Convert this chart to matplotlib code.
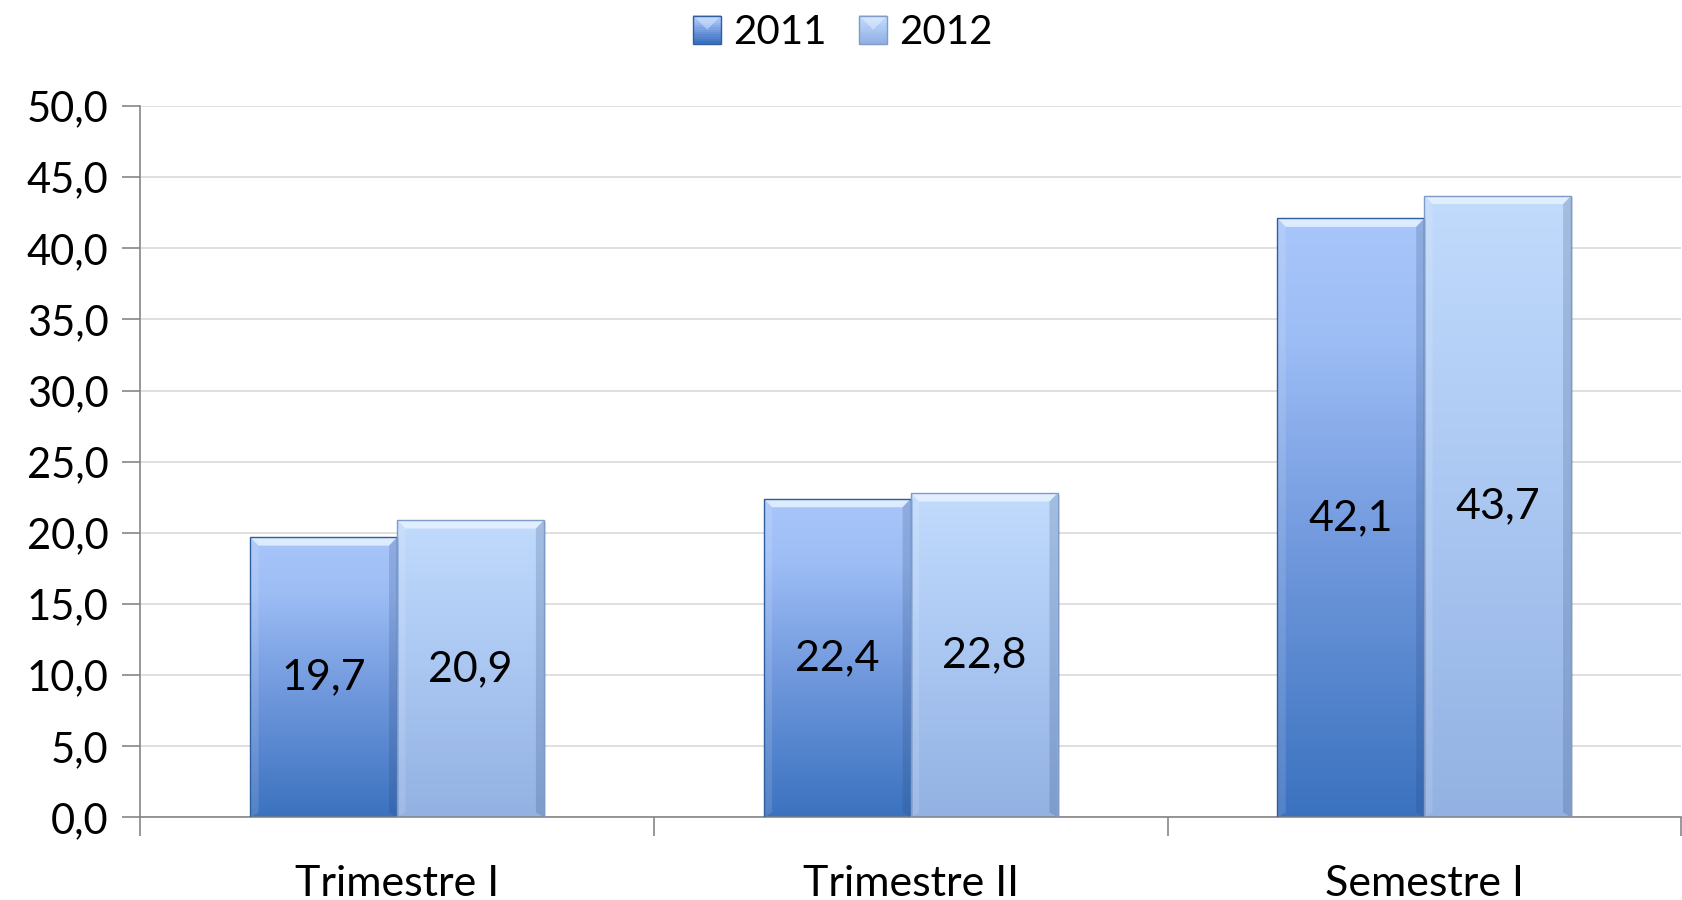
import numpy as np
import matplotlib
matplotlib.use("Agg")
import matplotlib.pyplot as plt
from matplotlib.colors import LinearSegmentedColormap
from matplotlib.patches import Rectangle, Polygon
from matplotlib.legend_handler import HandlerBase

plt.rcParams['font.family'] = ['Lato', 'DejaVu Sans']

categories = ["Trimestre I", "Trimestre II", "Semestre I"]
series_names = ["2011", "2012"]
values_2011 = [19.7, 22.4, 42.1]
values_2012 = [20.9, 22.8, 43.7]
labels_2011 = ["19,7", "22,4", "42,1"]
labels_2012 = ["20,9", "22,8", "43,7"]
yticks = [0, 5, 10, 15, 20, 25, 30, 35, 40, 45, 50]
ytick_labels = ["0,0", "5,0", "10,0", "15,0", "20,0", "25,0", "30,0", "35,0", "40,0", "45,0", "50,0"]

cmap_2011 = LinearSegmentedColormap.from_list("c11", [(0, "#3B72BF"), (0.45, "#7199DD"), (0.8, "#9DBDF5"), (1, "#A9C6FA")])
cmap_2012 = LinearSegmentedColormap.from_list("c12", [(0, "#93B1E2"), (0.5, "#AAC7F2"), (1, "#C1DBFC")])
edge_2011 = "#2F5E9E"
edge_2012 = "#7F9CC8"

fig = plt.figure(figsize=(16.82, 9.0), dpi=100)
ax = fig.add_axes([0.0835, 0.0917, 0.9160, 0.7906])

x = np.arange(len(categories))
w = 0.286
grad = np.linspace(0, 1, 256).reshape(-1, 1)

def draw_series(vals, offset, cmap, edge, labels):
    bars = ax.bar(x + offset, vals, width=w, facecolor="none", edgecolor=edge, linewidth=1.0, zorder=3)
    for b, lab in zip(bars, labels):
        x0, y0 = b.get_x(), b.get_y()
        bw, bh = b.get_width(), b.get_height()
        sh = Rectangle((x0 + 0.004, y0 - 0.12), bw, bh, facecolor="#000000", alpha=0.12, edgecolor="none", zorder=1.5)
        ax.add_patch(sh)
        im = ax.imshow(grad, cmap=cmap, origin="lower", aspect="auto",
                       extent=[x0, x0 + bw, y0, y0 + bh], zorder=2, interpolation="bicubic")
        im.set_clip_path(b)
        bev_h = 0.6
        bev_w = 0.016
        poly = Polygon([[x0, y0 + bh], [x0 + bw, y0 + bh],
                        [x0 + bw - bev_w, y0 + bh - bev_h], [x0 + bev_w, y0 + bh - bev_h]],
                       closed=True, facecolor="#E6F2FF", edgecolor="none", alpha=0.85, zorder=2.5)
        ax.add_patch(poly)
        side_l = Polygon([[x0, y0], [x0, y0 + bh], [x0 + bev_w, y0 + bh - bev_h], [x0 + bev_w, y0 + bev_h * 0.6]],
                         closed=True, facecolor="white", edgecolor="none", alpha=0.12, zorder=2.5)
        ax.add_patch(side_l)
        side_r = Polygon([[x0 + bw, y0], [x0 + bw, y0 + bh], [x0 + bw - bev_w, y0 + bh - bev_h], [x0 + bw - bev_w, y0 + bev_h * 0.6]],
                         closed=True, facecolor="#203C6A", edgecolor="none", alpha=0.18, zorder=2.5)
        ax.add_patch(side_r)
        ax.text(x0 + bw / 2, y0 + bh / 2, lab, ha="center", va="center", fontsize=31, color="black", zorder=5)
    return bars

draw_series(values_2011, -w / 2, cmap_2011, edge_2011, labels_2011)
draw_series(values_2012, w / 2, cmap_2012, edge_2012, labels_2012)

ax.set_xlim(-0.5, len(categories) - 0.5)
ax.set_ylim(0, 50)
ax.set_yticks(yticks)
ax.set_yticklabels(ytick_labels, fontsize=30)
ax.yaxis.grid(True, color="#D9D9D9", linewidth=1.2, zorder=0)
ax.set_axisbelow(True)

ax.set_xticks(np.arange(len(categories) + 1) - 0.5)
ax.set_xticklabels([])
ax.set_xticks(x, minor=True)
ax.set_xticklabels(categories, minor=True, fontsize=31)
ax.tick_params(axis="x", which="minor", length=0, pad=34)
ax.tick_params(axis="x", which="major", length=14, width=1.2, color="#868686", direction="out")
ax.tick_params(axis="y", length=13, width=1.2, color="#868686", direction="out", pad=10)

for s in ["top", "right"]:
    ax.spines[s].set_visible(False)
for s in ["left", "bottom"]:
    ax.spines[s].set_color("#868686")
    ax.spines[s].set_linewidth(1.2)

class GradHandler(HandlerBase):
    def __init__(self, cmap, edge):
        super().__init__()
        self.cmap = cmap
        self.edge = edge
    def create_artists(self, legend, orig_handle, xdescent, ydescent, width, height, fontsize, trans):
        s = height * 1.0
        x0 = xdescent + width - s
        y0 = -ydescent + (height - s) / 2
        arts = []
        n = 12
        for i in range(n):
            r = Rectangle((x0, y0 + s * i / n), s, s / n + 0.2, facecolor=self.cmap(i / (n - 1)),
                          edgecolor="none", transform=trans)
            arts.append(r)
        top = Polygon([[x0, y0 + s], [x0 + s, y0 + s], [x0 + s / 2, y0 + s / 2]], facecolor="white", alpha=0.35,
                      edgecolor="none", transform=trans)
        arts.append(top)
        border = Rectangle((x0, y0), s, s, facecolor="none", edgecolor=self.edge, linewidth=1.0, transform=trans)
        arts.append(border)
        return arts

h1 = Rectangle((0, 0), 1, 1)
h2 = Rectangle((0, 0), 1, 1)
fig.legend([h1, h2], series_names, loc="upper center", bbox_to_anchor=(0.5, 1.025), ncol=2, frameon=False,
           fontsize=29, handlelength=0.8, handletextpad=0.3, columnspacing=0.7,
           handler_map={h1: GradHandler(cmap_2011, edge_2011), h2: GradHandler(cmap_2012, edge_2012)})

fig.savefig("out.png", dpi=100)
